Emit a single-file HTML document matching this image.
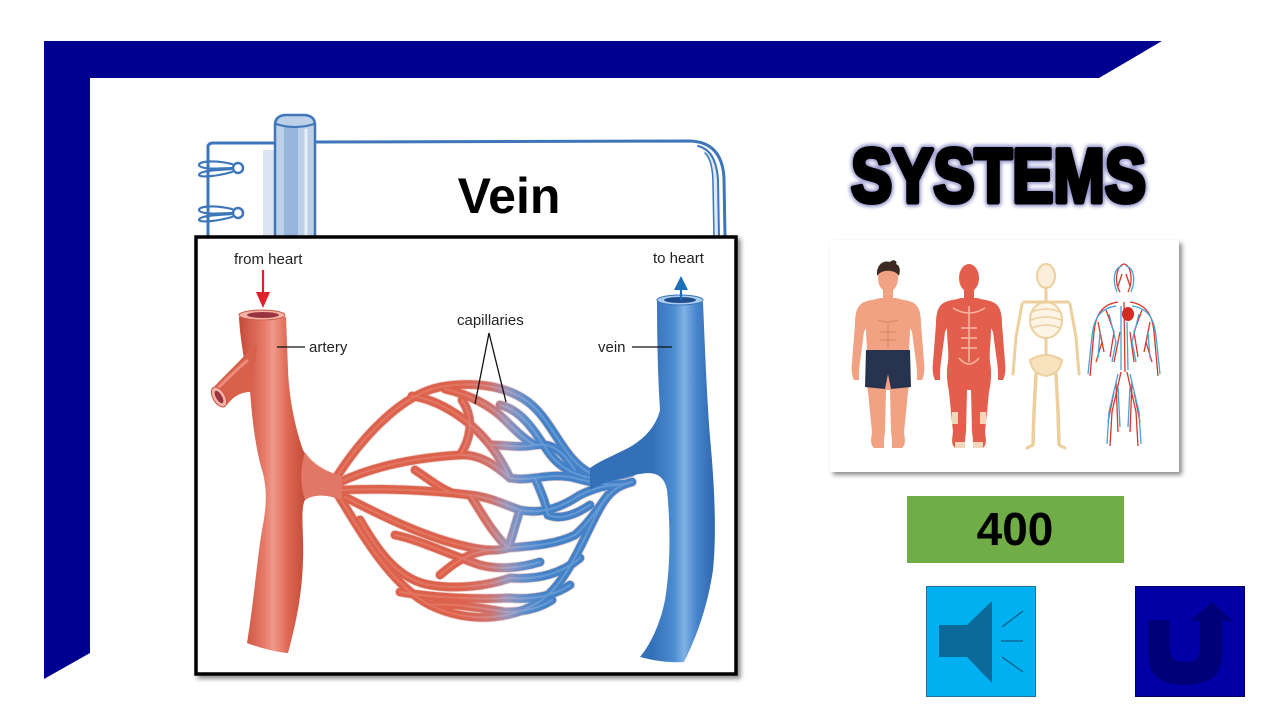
<!DOCTYPE html>
<html><head><meta charset="utf-8"><style>
html,body{margin:0;padding:0;background:#fff;}
svg{display:block;}
text{font-family:"Liberation Sans",Arial,sans-serif;}
</style></head><body>
<svg width="1280" height="720" viewBox="0 0 1280 720" xmlns="http://www.w3.org/2000/svg">
<defs>
 <filter id="sh" x="-10%" y="-10%" width="125%" height="125%">
  <feDropShadow dx="3" dy="3" stdDeviation="2.5" flood-color="#000" flood-opacity="0.45"/>
 </filter>
 <filter id="blur"><feGaussianBlur stdDeviation="1.8"/></filter>
 <linearGradient id="cap" gradientUnits="userSpaceOnUse" x1="460" y1="0" x2="545" y2="0">
  <stop offset="0" stop-color="#dc624c"/>
  <stop offset="0.35" stop-color="#d0716b"/>
  <stop offset="0.55" stop-color="#9b93b6"/>
  <stop offset="0.78" stop-color="#5a8dcc"/>
  <stop offset="1" stop-color="#4382c8"/>
 </linearGradient>
 <linearGradient id="caph" gradientUnits="userSpaceOnUse" x1="460" y1="0" x2="545" y2="0">
  <stop offset="0" stop-color="#f29c8b"/>
  <stop offset="0.55" stop-color="#c7c2da"/>
  <stop offset="1" stop-color="#9fc3ea"/>
 </linearGradient>
 <linearGradient id="art" gradientUnits="userSpaceOnUse" x1="240" y1="0" x2="306" y2="0">
  <stop offset="0" stop-color="#c64b39"/>
  <stop offset="0.35" stop-color="#e57866"/>
  <stop offset="0.5" stop-color="#f09a8b"/>
  <stop offset="0.72" stop-color="#de6852"/>
  <stop offset="1" stop-color="#c24a38"/>
 </linearGradient>
 <linearGradient id="vn" gradientUnits="userSpaceOnUse" x1="652" y1="0" x2="716" y2="0">
  <stop offset="0" stop-color="#3470b8"/>
  <stop offset="0.35" stop-color="#4d8dd1"/>
  <stop offset="0.5" stop-color="#7fb2e4"/>
  <stop offset="0.7" stop-color="#4784cc"/>
  <stop offset="1" stop-color="#2c65ab"/>
 </linearGradient>
 <path id="bd" d="M-8,36 C-14,38 -22,38 -27,42 C-32,46 -33,54 -33,62 L-36,100 C-37,108 -36,114 -34,118 L-29,118 C-29,112 -29,106 -28,100 L-24,70 L-22,66 C-22,80 -20,90 -21,100 C-23,110 -22,120 -20,130 L-16,170 C-17,178 -18,182 -14,186 L-4,186 C-4,180 -4,176 -3,170 L-2,128 L2,128 L3,170 C4,176 4,180 4,186 L14,186 C18,182 17,178 16,170 L20,130 C22,120 23,110 21,100 C20,90 22,80 22,66 L24,70 L28,100 C29,106 29,112 29,118 L34,118 C36,114 37,108 36,100 L33,62 C33,54 32,46 27,42 C22,38 14,38 8,36 Z"/>
 <g id="caps">
  <path d="M336,478 C360,440 400,395 440,387 C480,380 515,388 535,408 C555,428 565,460 590,473 C600,478 615,478 632,472"/>
  <path d="M338,495 C360,530 390,585 430,605 C470,625 520,620 548,595 C575,570 590,520 605,500 C612,490 620,485 632,482"/>
  <path d="M340,482 C370,468 410,458 460,455 C480,454 495,465 510,478 C530,482 550,472 575,478 C590,482 605,486 625,484"/>
  <path d="M460,455 C470,440 475,420 462,400"/>
  <path d="M412,396 C440,400 470,420 490,445 C500,458 505,468 510,478"/>
  <path d="M445,389 C470,395 490,405 505,420 C515,430 525,440 535,445"/>
  <path d="M500,405 C522,410 535,432 547,450 C560,470 580,478 605,480"/>
  <path d="M342,490 C380,488 430,490 470,495 C490,497 505,505 520,510 C545,515 565,505 580,495 C595,488 605,485 620,485"/>
  <path d="M345,497 C380,515 420,535 460,545 C480,550 495,552 508,548 C530,546 555,545 575,535 C590,522 598,508 608,495"/>
  <path d="M360,520 C380,555 400,580 430,585 C460,590 490,585 510,578 C540,580 562,573 580,558"/>
  <path d="M400,592 C430,597 470,600 510,598 C535,600 555,595 570,585"/>
  <path d="M430,605 C455,603 480,608 505,612 C525,612 540,608 552,600"/>
  <path d="M470,495 C480,510 490,530 508,548"/>
  <path d="M440,575 C455,562 470,552 490,550"/>
  <path d="M395,535 C420,540 450,555 480,565 C500,570 520,568 540,562"/>
  <path d="M415,470 C430,480 440,488 450,492"/>
  <path d="M520,510 C515,525 512,538 508,548"/>
  <path d="M535,478 C540,490 545,500 548,515"/>
  <path d="M490,445 C505,445 520,448 535,445 C555,442 565,455 575,470"/>
  <path d="M548,515 C560,520 575,515 590,505"/>
 </g>
</defs>

<rect width="1280" height="720" fill="#fff"/>

<!-- frame -->
<polygon points="44,41 1162,41 1099,78 90,78 90,653 44,679" fill="#000090"/>

<!-- notebook -->
<g fill="none" stroke="#3e76b9" stroke-linecap="round" stroke-linejoin="round">
 <rect x="263" y="150" width="12" height="90" fill="#dbe5f1" stroke="none"/>
 <path d="M700,147 Q716,150 718,180 L719,238 L714,238 L713,185 Q713,160 706,154 Z" fill="#dfe9f5" stroke="none"/>
 <path d="M208,238 L208,146 Q209,143 213,143 L275,143" stroke-width="3"/>
 <path d="M315,142 L690,141 Q722,142 724,178 L725,238" stroke-width="3"/>
 <path d="M698,146 Q716,150 718,180 L719,238" stroke-width="2"/>
 <path d="M705,153 Q713,160 713,185 L714,238" stroke-width="1.5"/>
 <path d="M232,164 C215,160 199,161 199,165 C200,169 215,169 232,168" stroke-width="2.2"/>
 <path d="M232,169 C215,170 199,171 199,175 C200,178 218,176 232,172" stroke-width="2.2"/>
 <circle cx="238" cy="168" r="5" fill="#fff" stroke-width="2.5"/>
 <path d="M232,209 C215,205 199,206 199,210 C200,214 215,214 232,213" stroke-width="2.2"/>
 <path d="M232,214 C215,215 199,216 199,220 C200,223 218,221 232,217" stroke-width="2.2"/>
 <circle cx="238" cy="213" r="5" fill="#fff" stroke-width="2.5"/>
 <path d="M275,240 L275,125 Q275,116 285,115 L305,115 Q315,116 315,125 L315,240 Z" fill="#bdd0e9" stroke-width="2.5"/>
 <rect x="284" y="126" width="14" height="114" fill="#98b5dc" stroke="none"/>
 <line x1="306" y1="130" x2="306" y2="240" stroke="#e6eef9" stroke-width="3"/>
 <path d="M276,124 Q295,130 314,124" stroke-width="2"/>
</g>
<text x="509" y="213" font-size="50" font-weight="bold" text-anchor="middle" fill="#000">Vein</text>

<!-- diagram box -->
<rect x="196" y="237" width="540" height="437" fill="#fff" stroke="#000" stroke-width="3.5" filter="url(#sh)"/>

<!-- capillaries -->
<g fill="none" stroke-linecap="round" stroke-linejoin="round">
 <use href="#caps" stroke="#b9574c" stroke-width="10" opacity="0.3"/>
 <use href="#caps" stroke="url(#cap)" stroke-width="8.5"/>
 <use href="#caps" stroke="url(#caph)" stroke-width="2" opacity="0.35"/>
</g>

<!-- artery -->
<path d="M239,317 C240,340 246,370 250,390 C252,420 256,450 262,470 C268,490 266,510 262,530 C257,560 254,600 247,643 C260,648 275,652 288,653 C294,630 302,600 303,560 C304,530 300,510 305,500 C314,494 326,494 342,500 L342,476 C326,472 311,465 303,450 C296,430 289,400 288,370 L286,317 Z" fill="url(#art)"/>
<path d="M305,452 C315,466 328,472 342,476 L342,500 C326,494 313,494 305,500 C300,485 300,468 305,452 Z" fill="#e98272" opacity="0.8"/>
<path d="M250,392 C240,392 232,398 227,405 L212,389 C222,378 235,366 246,354 C250,350 254,346 258,343 Z" fill="#d9604b"/>
<path d="M248,360 C238,368 228,378 218,388" stroke="#f09a8a" stroke-width="3" fill="none" opacity="0.8"/>
<ellipse cx="219" cy="397" rx="11" ry="6" transform="rotate(59 219 397)" fill="#f4b3a6" stroke="#c9503e" stroke-width="1"/>
<ellipse cx="219" cy="397" rx="7" ry="3" transform="rotate(59 219 397)" fill="#9a3340"/>
<ellipse cx="262" cy="315" rx="23" ry="5" fill="#f4b3a6" stroke="#cf5b48" stroke-width="1"/>
<ellipse cx="263" cy="315" rx="16" ry="3" fill="#9a3340"/>

<!-- vein -->
<path d="M657,300 C657,340 658,380 660,410 C655,430 640,443 620,452 C608,458 598,462 590,468 L590,490 C605,482 620,477 640,474 C655,471 664,475 667,490 C671,530 670,570 665,600 C660,625 650,645 640,657 C655,661 670,663 684,662 C695,640 707,610 713,570 C717,530 714,480 710,437 C707,400 705,350 703,302 Z" fill="url(#vn)"/>
<ellipse cx="680" cy="300" rx="23" ry="5" fill="#acccee" stroke="#3a74ba" stroke-width="1"/>
<ellipse cx="680" cy="300" rx="16" ry="3" fill="#1e4d8c"/>

<!-- labels -->
<g font-size="15" fill="#222">
 <text x="234" y="264">from heart</text>
 <text x="653" y="263">to heart</text>
 <text x="457" y="325">capillaries</text>
 <text x="309" y="352">artery</text>
 <text x="598" y="352">vein</text>
</g>
<g stroke="#111" stroke-width="1.3">
 <line x1="277" y1="347" x2="305" y2="347"/>
 <line x1="632" y1="347" x2="672" y2="347"/>
 <line x1="489" y1="333" x2="475" y2="404"/>
 <line x1="489" y1="333" x2="506" y2="402"/>
</g>
<line x1="263" y1="270" x2="263" y2="296" stroke="#e0202a" stroke-width="2.2"/>
<polygon points="256,292 270,292 263,308" fill="#e0202a"/>
<line x1="681" y1="300" x2="681" y2="286" stroke="#1a6fb8" stroke-width="2.2"/>
<polygon points="674,290 688,290 681,276" fill="#1a6fb8"/>

<!-- SYSTEMS -->
<text x="851" y="202" font-size="76" font-weight="bold" textLength="295" lengthAdjust="spacingAndGlyphs" fill="#1a1a70" stroke="#3a3aa0" stroke-width="9" stroke-linejoin="round" opacity="0.55" filter="url(#blur)">SYSTEMS</text>
<text x="851" y="202" font-size="76" font-weight="bold" textLength="295" lengthAdjust="spacingAndGlyphs" fill="#000" stroke="#000" stroke-width="5" stroke-linejoin="round">SYSTEMS</text>

<!-- body systems picture -->
<rect x="830" y="240" width="349" height="232" fill="#fff" filter="url(#sh)"/>
<g transform="translate(888,262)">
 <ellipse cx="0" cy="16" rx="10" ry="14" fill="#f1a283"/>
 <rect x="-5" y="26" width="10" height="12" fill="#f1a283"/>
 <use href="#bd" fill="#f1a283"/>
 <path d="M-22,88 L22,88 L23,125 L3,127 L0,112 L-3,127 L-23,125 Z" fill="#27334f"/>
 <path d="M-11,14 C-12,2 -4,-2 2,0 C6,-4 10,0 8,2 C13,4 12,10 11,14 C8,8 -6,6 -11,14 Z" fill="#3b2b22"/>
 <path d="M-10,58 Q0,62 10,58 M0,62 L0,86 M-8,70 L8,70 M-8,78 L8,78" stroke="#dc8466" stroke-width="1" fill="none"/>
</g>
<g transform="translate(969,262)">
 <ellipse cx="0" cy="16" rx="10" ry="14" fill="#e45e4d"/>
 <rect x="-5" y="26" width="10" height="12" fill="#e45e4d"/>
 <use href="#bd" fill="#e45e4d"/>
 <path d="M-16,46 Q0,56 16,46 M0,44 L0,100 M-8,66 L8,66 M-8,76 L8,76 M-8,86 L8,86 M-10,96 Q0,108 10,96" stroke="#f6b8a3" stroke-width="1.5" fill="none"/>
 <path d="M-17,150 l6,0 l0,12 l-6,0 Z M11,150 l6,0 l0,12 l-6,0 Z" fill="#f2d8b8"/>
 <path d="M-14,180 l10,0 l0,6 l-10,0 Z M4,180 l10,0 l0,6 l-10,0 Z" fill="#f2d8b8"/>
</g>
<g transform="translate(1046,262)" stroke="#eccf9c" stroke-linecap="round" fill="none">
 <ellipse cx="0" cy="14" rx="9" ry="12" fill="#fbefdb" stroke-width="2"/>
 <line x1="0" y1="26" x2="0" y2="100" stroke-width="3"/>
 <ellipse cx="0" cy="58" rx="16" ry="18" fill="#fdf4e6" stroke-width="2"/>
 <path d="M-14,50 Q0,44 14,50 M-15,58 Q0,52 15,58 M-14,66 Q0,60 14,66" stroke-width="1.5"/>
 <path d="M-22,40 L22,40" stroke-width="3"/>
 <path d="M-24,42 L-30,75 L-33,112 M24,42 L30,75 L33,112" stroke-width="3"/>
 <path d="M-16,98 Q0,88 16,98 Q14,112 0,114 Q-14,112 -16,98 Z" fill="#f7e2bd" stroke-width="2"/>
 <path d="M-10,112 L-12,150 L-13,182 M10,112 L12,150 L13,182" stroke-width="3.5"/>
 <path d="M-13,183 L-19,186 M13,183 L19,186" stroke-width="3"/>
</g>
<g transform="translate(1124,262)" fill="none" stroke-width="1.3">
 <g stroke="#d9362b">
  <path d="M-4,30 C-10,20 -8,4 0,2 C8,4 9,20 4,30"/>
  <path d="M-6,40 C-20,42 -28,50 -30,70 L-34,114 M6,40 C20,42 28,50 30,70 L34,114"/>
  <path d="M0,40 L1,110 M-3,110 L-12,150 L-14,184 M3,110 L12,150 L14,184"/>
  <path d="M-26,60 L-20,90 M26,60 L20,90 M-8,120 L-6,170 M8,120 L6,170"/>
  <path d="M-18,48 L-10,70 L-14,95 M18,48 L10,70 L14,95 M-4,70 L-10,100 M6,70 L10,100 M-22,80 L-28,100 M22,80 L28,100"/>
  <path d="M-10,130 L-16,160 M10,130 L16,160 M-2,12 L-6,24 M2,12 L6,24"/>
 </g>
 <g stroke="#47a2d8">
  <path d="M-7,30 C-12,18 -10,6 -2,4 M7,30 C12,18 10,6 2,4"/>
  <path d="M-8,44 C-22,46 -30,54 -32,74 L-36,112 M8,44 C22,46 30,54 32,74 L36,112"/>
  <path d="M-3,44 L-3,108 M3,60 L4,108 M-6,112 L-15,150 L-17,182 M6,112 L15,150 L17,182"/>
  <path d="M-15,52 L-8,80 L-12,100 M15,52 L8,80 L12,100 M-24,70 L-26,96 M24,70 L26,96 M-6,125 L-4,165 M6,125 L4,165"/>
 </g>
 <ellipse cx="4" cy="52" rx="6" ry="7" fill="#d52b22" stroke="none"/>
</g>

<!-- 400 -->
<rect x="907" y="496" width="217" height="67" fill="#70ad47"/>
<text x="1015" y="545" font-size="46" font-weight="bold" text-anchor="middle" fill="#000">400</text>

<!-- speaker -->
<rect x="926.5" y="586.5" width="109" height="110" fill="#00b0f0" stroke="#1f6f9f" stroke-width="1"/>
<polygon points="939,625 967,625 992,601 992,683 967,657 939,657" fill="#0b6a99"/>
<g stroke="#0b6a99" stroke-width="1.5">
 <line x1="1002" y1="627" x2="1023" y2="611"/>
 <line x1="1001" y1="641" x2="1023" y2="641"/>
 <line x1="1002" y1="657" x2="1023" y2="672"/>
</g>

<!-- return -->
<rect x="1135.5" y="586.5" width="109" height="110" fill="#0000a6" stroke="#00005a" stroke-width="1"/>
<path d="M1148,620 L1170,620 L1170,650 Q1170,662 1185,662 Q1200,662 1200,650 L1200,621 L1190,621 L1212,602 L1233,621 L1222,621 L1222,655 Q1222,685 1185,685 Q1148,685 1148,655 Z" fill="#000078"/>
</svg>
</body></html>
